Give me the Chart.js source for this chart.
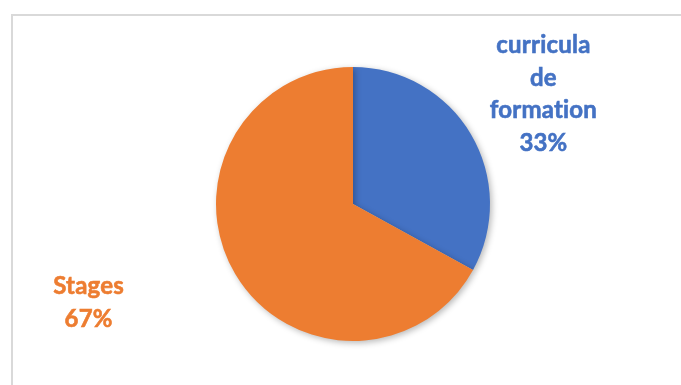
<!DOCTYPE html>
<html>
<head>
<meta charset="utf-8">
<script src="https://cdn.jsdelivr.net/npm/chart.js@4/dist/chart.umd.min.js"></script>
<style>
  html, body { margin: 0; padding: 0; background: #ffffff; }
  #wrap { width: 681px; height: 385px; position: relative; }
</style>
</head>
<body>
<div id="wrap"><canvas id="c" width="681" height="385"></canvas></div>
<script>
// Share of training time
const categories = ['curricula de formation', 'Stages'];
const labelLines = [['curricula', 'de', 'formation'], ['Stages']];
const shares = [33, 67];
const colors = ['#4472C4', '#ED7D31'];

// Label block offsets from the pie centre, in units of the radius
const labelOffsets = [[1.39, -0.80], [-1.93, 0.72]];

const framePlugin = {
  id: 'frame',
  beforeDraw(chart) {
    const ctx = chart.ctx;
    ctx.save();
    ctx.strokeStyle = '#d9d9d9';
    ctx.lineWidth = 2;
    ctx.strokeRect(12, 15, 720, 420);
    ctx.restore();
  }
};

const shadowPlugin = {
  id: 'pieShadow',
  beforeDatasetDraw(chart) {
    const ctx = chart.ctx;
    ctx.save();
    ctx.shadowColor = 'rgba(0,0,0,0.28)';
    ctx.shadowBlur = 6;
    ctx.shadowOffsetX = 2;
    ctx.shadowOffsetY = 2;
  },
  afterDatasetDraw(chart) {
    chart.ctx.restore();
  }
};

const labelPlugin = {
  id: 'sliceLabels',
  afterDatasetsDraw(chart) {
    const ctx = chart.ctx;
    const meta = chart.getDatasetMeta(0);
    const data = chart.data.datasets[0].data;
    const total = data.reduce((a, b) => a + b, 0);
    const lineH = 32.5;
    ctx.save();
    ctx.font = 'bold 24px Lato, "Open Sans", sans-serif';
    ctx.textRendering = 'optimizeSpeed';
    ctx.letterSpacing = '0.2px';
    ctx.textAlign = 'center';
    ctx.textBaseline = 'middle';
    meta.data.forEach((arc, i) => {
      const r = arc.outerRadius;
      const cx = arc.x + labelOffsets[i][0] * r;
      const cy = arc.y + labelOffsets[i][1] * r;
      const lines = labelLines[i].concat([Math.round(data[i] / total * 100) + '%']);
      const y0 = cy - (lines.length - 1) * lineH / 2;
      ctx.fillStyle = colors[i];
      ctx.strokeStyle = colors[i];
      ctx.lineWidth = 0.6;
      lines.forEach((t, k) => {
        ctx.fillText(t, cx, y0 + k * lineH);
        ctx.strokeText(t, cx, y0 + k * lineH);
      });
    });
    ctx.restore();
  }
};

new Chart(document.getElementById('c'), {
  type: 'pie',
  data: {
    labels: categories,
    datasets: [{
      data: shares,
      backgroundColor: colors,
      borderWidth: 0,
      hoverOffset: 0
    }]
  },
  options: {
    responsive: false,
    animation: false,
    layout: { padding: { left: 216, right: 191, top: 67, bottom: 44 } },
    plugins: {
      legend: { display: false },
      tooltip: { enabled: false }
    }
  },
  plugins: [framePlugin, shadowPlugin, labelPlugin]
});
</script>
</body>
</html>
